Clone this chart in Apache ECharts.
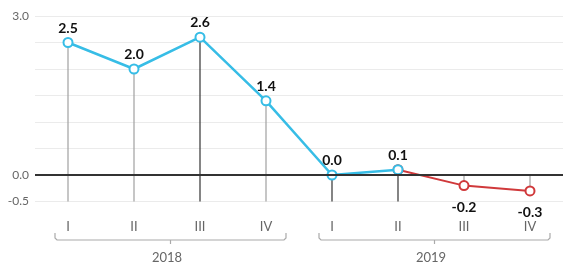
<!DOCTYPE html>
<html><head><meta charset="utf-8">
<script src="https://cdn.jsdelivr.net/npm/echarts@6/dist/echarts.min.js"></script>
<style>html,body{margin:0;padding:0;background:#fff;}#c{width:563px;height:266px;}</style>
</head><body><div id="c"></div>
<script>
const quarters = ['I','II','III','IV','I','II','III','IV'];
const years = ['2018','2019'];
const values = [2.5, 2.0, 2.6, 1.4, 0.0, 0.1, -0.2, -0.3];
const blueCount = 6; // first six points blue
const yTickLabels = ['3.0','0.0','-0.5'];

const FONT = 'Lato, "Open Sans", sans-serif';
const blueData = values.map((v,i)=> i < blueCount ? v : '-');
const redData = values.map((v,i)=> i >= blueCount-1 ? v : '-');
const darkDrops = [2,4,5];

const chart = echarts.init(document.getElementById('c'));
const option = {
  animation:false,
  grid:{left:35, top:16, width:530, bottom:64.5},
  xAxis:[{
    type:'category', data:quarters, boundaryGap:true,
    axisLine:{show:false}, axisTick:{show:false},
    axisLabel:{color:'#666', fontSize:13, fontFamily:FONT, margin:19}
  },{
    type:'category', data:years, position:'bottom', boundaryGap:true,
    axisLine:{show:false}, axisTick:{show:false},
    axisLabel:{color:'#666', fontSize:13, fontFamily:FONT, margin:50}
  }],
  yAxis:{
    type:'value', min:-0.5, max:3, interval:0.5,
    axisLine:{show:false}, axisTick:{show:false},
    splitLine:{lineStyle:{color:'#ebebeb', width:1}},
    axisLabel:{color:'#666', fontSize:12, fontFamily:FONT, margin:6,
      formatter:v=>{const s=v.toFixed(1); return yTickLabels.indexOf(s)>=0?s:'';}}
  },
  series:[
    {
      type:'custom', z:1,
      data: values.map((v,i)=>[i,v]),
      renderItem:(params, api)=>{
        const i = api.value(0), v = api.value(1);
        const p1 = api.coord([i, v]);
        const p2 = api.coord([i, v >= 0 ? -0.5 : 0]);
        return {type:'line', shape:{x1:p1[0],y1:p1[1],x2:p2[0],y2:p2[1]},
          style:{stroke: darkDrops.indexOf(i)>=0 ? '#333' : '#a0a0a0', lineWidth:1.2}};
      },
      markLine:{silent:true, symbol:'none', label:{show:false},
        lineStyle:{color:'#333', width:2, type:'solid'},
        data:[{yAxis:0}]}
    },
    {
      type:'line', z:3, data:redData, symbol:'circle', symbolSize:9,
      lineStyle:{color:'#d0393b', width:2},
      itemStyle:{color:'#fff', borderColor:'#d0393b', borderWidth:2},
      label:{show:true, position:'bottom', distance:9, color:'#111', fontWeight:'bold', fontSize:14, fontFamily:FONT,
        formatter:p=> p.dataIndex >= blueCount ? p.value.toFixed(1) : ''}
    },
    {
      type:'line', z:4, data:blueData, symbol:'circle', symbolSize:9,
      lineStyle:{color:'#37bde6', width:2.5},
      itemStyle:{color:'#fff', borderColor:'#37bde6', borderWidth:2},
      label:{show:true, position:'top', distance:2, color:'#111', fontWeight:'bold', fontSize:14, fontFamily:FONT,
        formatter:p=> p.value.toFixed(1)}
    }
  ]
};
chart.setOption(option);

// Year brackets positioned from axis coordinates
const groups = [[0,3],[4,7]];
const graphics = [];
const yB = 240;
groups.forEach(g=>{
  const xs = chart.convertToPixel({xAxisIndex:0}, g[0]) - 13;
  const xe = chart.convertToPixel({xAxisIndex:0}, g[1]) + 20;
  const xm = (xs+xe)/2;
  graphics.push({type:'polyline', silent:true,
    shape:{points:[[xs,yB-7],[xs,yB-2],[xs+2,yB],[xe-2,yB],[xe,yB-2],[xe,yB-7]]},
    style:{stroke:'#aaa', lineWidth:1.2, fill:null}});
  graphics.push({type:'line', silent:true,
    shape:{x1:xm,y1:yB,x2:xm,y2:yB+4}, style:{stroke:'#aaa', lineWidth:1.2}});
});
chart.setOption({graphic:graphics});
</script></body></html>
